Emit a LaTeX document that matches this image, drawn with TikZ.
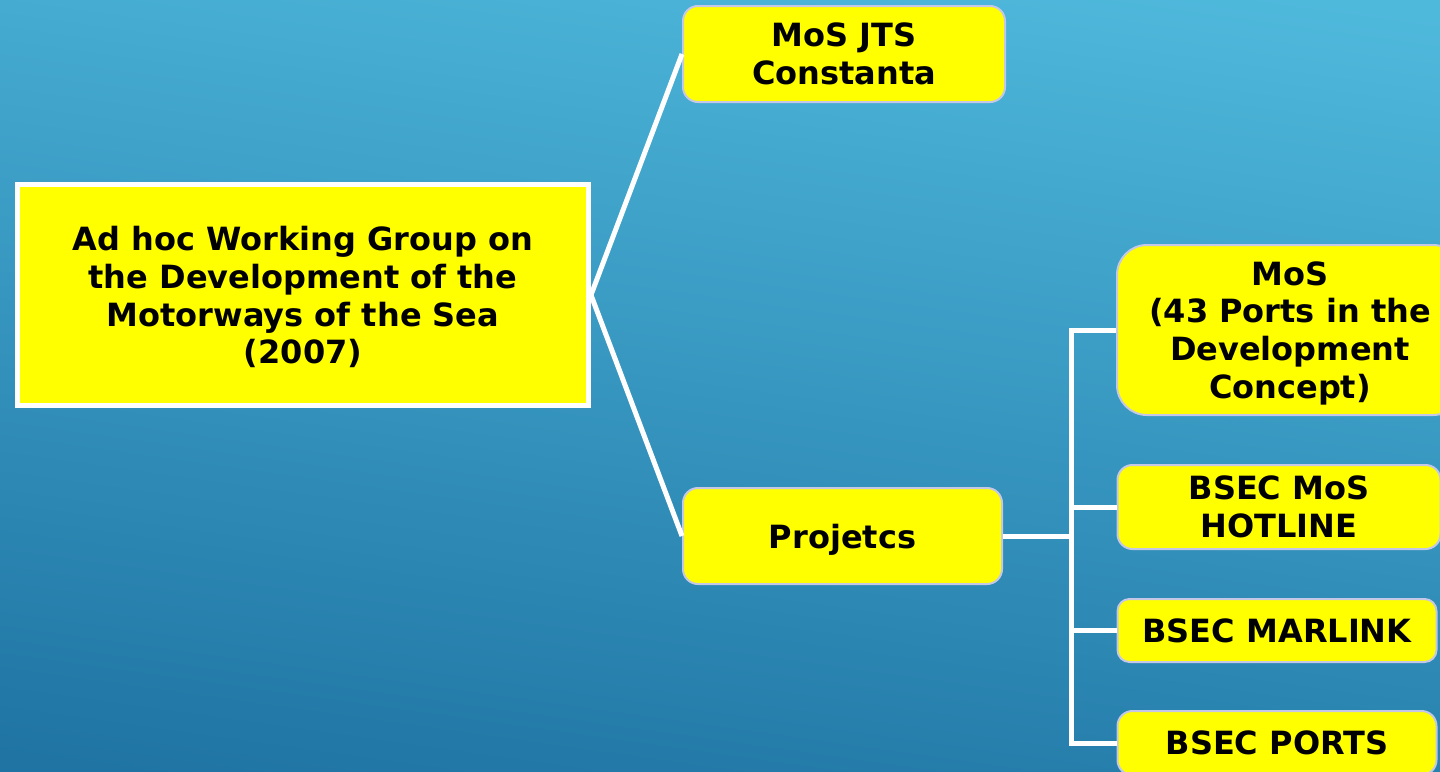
\documentclass[tikz,border=0pt]{standalone}
\usepackage{fontspec}
\setmainfont{DejaVu Sans}
\definecolor{bgtop}{HTML}{4FB9DC}
\definecolor{bgbot}{HTML}{1F74A3}
\definecolor{boxyellow}{HTML}{FFFF00}
\definecolor{boxedge}{HTML}{C4C8E6}
\tikzset{
  x=1pt, y=-1pt,
  lbl/.style={font=\fontsize{32}{37.8}\selectfont\bfseries, align=center, text=black, text depth=0pt},
  rbox/.style={lbl, draw=boxedge, line width=2pt, fill=boxyellow, rounded corners=#1, inner sep=0pt},
  rbox/.default=15pt,
  conn/.style={draw=white, line width=5pt},
}
\begin{document}
\begin{tikzpicture}
\useasboundingbox (0,0) rectangle (1440,771);
\clip (0,0) rectangle (1440,771);
\shade[top color=bgtop, bottom color=bgbot, shading angle=-8] (-40,-40) rectangle (1480,811);

% main box
\node[lbl, draw=white, line width=5pt, fill=boxyellow, minimum width=571pt, minimum height=221pt, inner sep=0pt]
  (main) at (303,295) {Ad hoc Working Group on\\the Development of the\\Motorways of the Sea\\(2007)};

\node[rbox, minimum width=322pt, minimum height=96pt] (const) at (844,54) {MoS JTS\\Constanta};
\node[rbox, minimum width=319pt, minimum height=96pt] (proj) at (842.5,536) {Projetcs};
\node[rbox=30pt, minimum width=346pt, minimum height=170pt] (mos) at (1290,330) {MoS\\(43 Ports in the\\Development\\Concept)};
\node[rbox, minimum width=323pt, minimum height=84pt] (hot) at (1279,507) {BSEC MoS\\HOTLINE};
\node[rbox=12pt, minimum width=319pt, minimum height=63pt] (marl) at (1277,630.5) {BSEC MARLINK};
\node[rbox, minimum width=319pt, minimum height=64pt] (ports) at (1277,743) {BSEC PORTS};

\coordinate (tx) at (1071,0);

\draw[conn] (main.east) -- (const.west);
\draw[conn] (main.east) -- (proj.west);
\draw[conn] (proj.east) -- (proj.east -| tx);
\draw[conn, line cap=rect] (tx |- mos.west) -- (tx |- ports.west);
\draw[conn] (tx |- mos.west) -- (mos.west);
\draw[conn] (tx |- hot.west) -- (hot.west);
\draw[conn] (tx |- marl.west) -- (marl.west);
\draw[conn] (tx |- ports.west) -- (ports.west);
\end{tikzpicture}
\end{document}
